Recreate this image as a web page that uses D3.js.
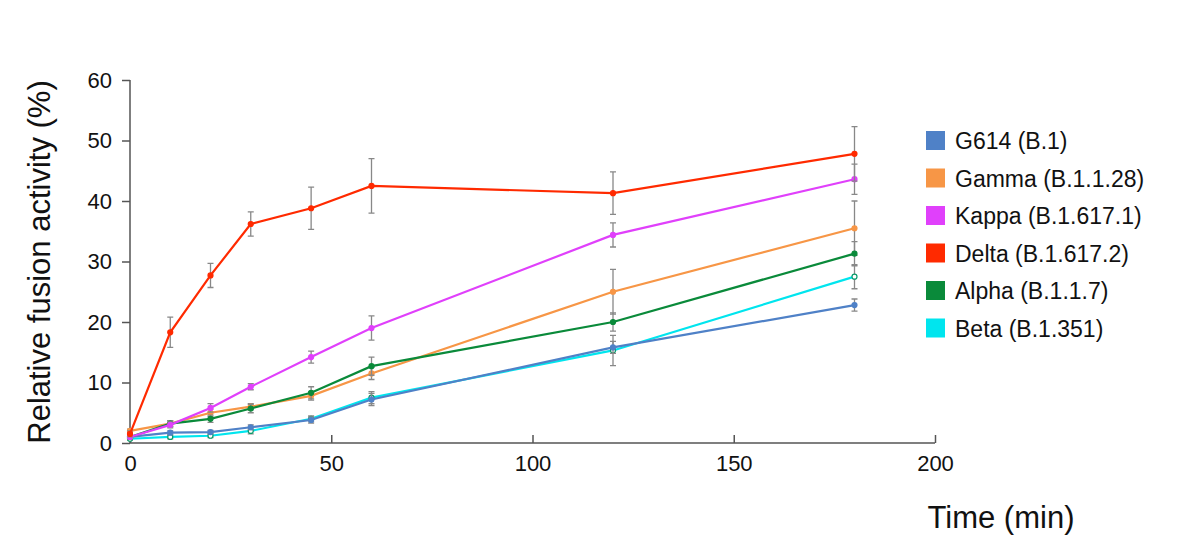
<!DOCTYPE html><html><head><meta charset="utf-8"><script src="https://cdn.jsdelivr.net/npm/d3@7"></script>
<style>body{margin:0;background:#fff}text{font-family:"Liberation Sans",Arial,sans-serif}</style></head><body><svg id="c" width="1200" height="557"></svg><script>
const times=[0,10,20,30,45,60,120,180];
const seriesNames=["G614 (B.1)","Gamma (B.1.1.28)","Kappa (B.1.617.1)","Delta (B.1.617.2)","Alpha (B.1.1.7)","Beta (B.1.351)"];
const colors=["#4f81c7","#f79646","#e040fb","#ff2a00","#0a8a3a","#00e5ee"];
const g614=[1,1.7,1.8,2.6,3.8,7.2,15.8,22.8], g614Err=[.2,.3,.3,.4,.5,1,1,1];
const gamma=[2,3.2,5,6,7.8,11.5,25,35.5], gammaErr=[.3,.5,.6,.5,.7,1,3.7,4.5];
const kappa=[1,3,5.8,9.3,14.2,19,34.4,43.6], kappaErr=[.3,.5,.7,.5,1,2,2,2.5];
const delta=[1.5,18.3,27.7,36.2,38.8,42.5,41.3,47.8], deltaErr=[.5,2.5,2,2,3.5,4.5,3.5,4.5];
const alpha=[1,3.2,4,5.7,8.3,12.7,20,31.3], alphaErr=[.3,.5,.6,.7,1,1.5,1.5,2];
const beta=[.7,1,1.2,2,4,7.5,15.3,27.5], betaErr=[.2,.3,.3,.5,.5,1,2.5,2];
const xTicks=[0,50,100,150,200], yTicks=[0,10,20,30,40,50,60];
const vals=[g614,gamma,kappa,delta,alpha,beta], errs=[g614Err,gammaErr,kappaErr,deltaErr,alphaErr,betaErr];
const svg=d3.select("#c");
const x=d3.scaleLinear().domain([0,200]).range([130,935]);
const y=d3.scaleLinear().domain([0,60]).range([443,80]);
const ax=svg.append("g").attr("transform","translate(0,443)").call(d3.axisBottom(x).tickValues(xTicks).tickSize(-8).tickPadding(12));
const ay=svg.append("g").attr("transform","translate(130,0)").call(d3.axisLeft(y).tickValues(yTicks).tickSize(8).tickPadding(10));
[ax,ay].forEach(a=>{a.selectAll("path,line").attr("stroke","#555").attr("stroke-width",1.5);a.selectAll("text").attr("font-size",22).attr("fill","#111");});
ax.select(".domain").attr("d","M130,0H935");
ay.select(".domain").attr("d","M0,443V80");
const order=[5,0,1,4,2,3];
order.forEach(i=>{
  const d=times.map((t,j)=>({t,v:vals[i][j],e:errs[i][j]}));
  const g=svg.append("g");
  g.selectAll("path.e").data(d).join("path").attr("fill","none").attr("stroke","#888").attr("stroke-width",1.3)
   .attr("d",p=>`M${x(p.t)},${y(p.v-p.e)}V${y(p.v+p.e)}M${x(p.t)-3},${y(p.v-p.e)}h6M${x(p.t)-3},${y(p.v+p.e)}h6`);
  g.append("path").datum(d).attr("fill","none").attr("stroke",colors[i]).attr("stroke-width",2.2)
   .attr("d",d3.line().x(p=>x(p.t)).y(p=>y(p.v)));
  g.selectAll("circle").data(d).join("circle").attr("cx",p=>x(p.t)).attr("cy",p=>y(p.v)).attr("r",2.5)
   .attr("fill",i==5?"#fff":colors[i]).attr("stroke",i==5?"#0a9a6a":colors[i]).attr("stroke-width",1.2);
});
const lg=svg.append("g");
seriesNames.forEach((n,i)=>{
  lg.append("rect").attr("x",926).attr("y",131+i*37.5).attr("width",19).attr("height",19).attr("fill",colors[i]);
  lg.append("text").attr("x",955).attr("y",149+i*37.5).attr("font-size",23).attr("fill","#111").text(n);
});
svg.append("text").attr("transform","translate(50,262) rotate(-90)").attr("text-anchor","middle").attr("font-size",31).attr("fill","#111").text("Relative fusion activity (%)");
svg.append("text").attr("x",1001).attr("y",528).attr("text-anchor","middle").attr("font-size",31).attr("fill","#111").text("Time (min)");
</script></body></html>
